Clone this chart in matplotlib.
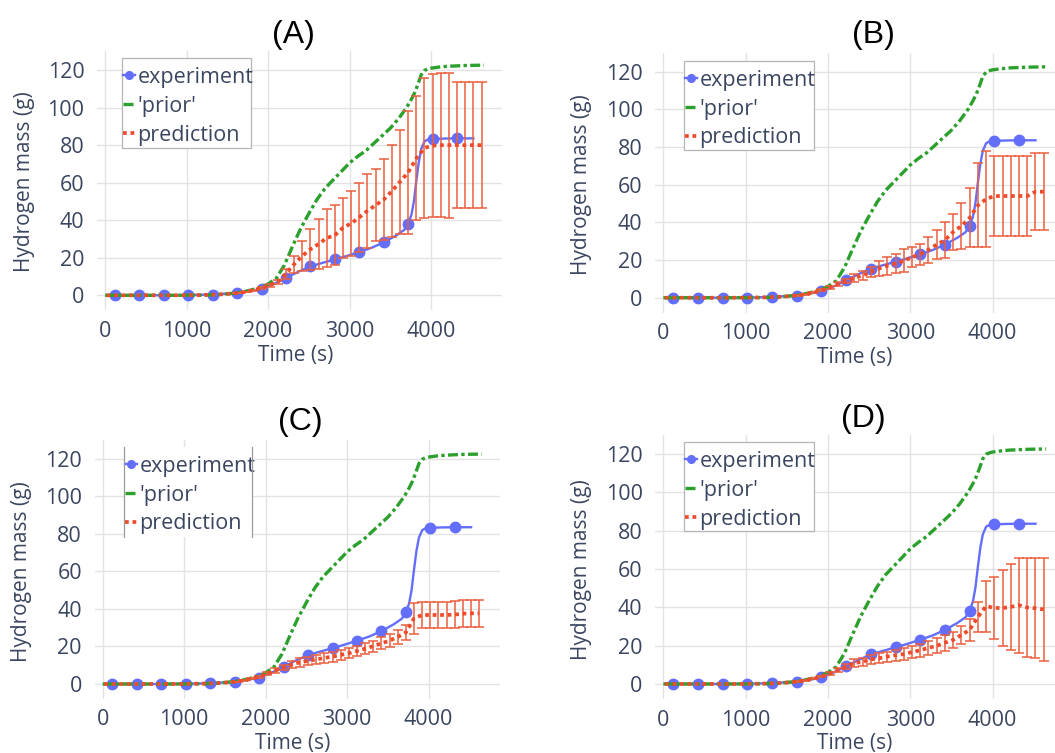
import matplotlib.pyplot as plt
from matplotlib.lines import Line2D
from matplotlib.patches import Rectangle

# experiment (markers every 300 s, line read at finer steps)
exp_t = [120, 420, 720, 1020, 1320, 1620, 1920, 2220, 2520, 2820, 3120, 3420, 3720, 4020, 4320]
exp_m = [0, 0, 0, 0, 0.3, 1.1, 3.4, 9.2, 15.4, 19.1, 23.1, 28.2, 38.2, 83.3, 83.6]
exp_line_t = [120, 420, 720, 1020, 1320, 1620, 1770, 1920, 2070, 2220, 2370, 2520, 2670, 2820,
              2970, 3120, 3270, 3420, 3570, 3670, 3720, 3760, 3790, 3820, 3850, 3880, 3920,
              3960, 4020, 4170, 4320, 4520]
exp_line_m = [0, 0, 0, 0.1, 0.4, 1.2, 2.1, 3.4, 6, 9.2, 12.5, 15.4, 17.3, 19.1,
              21, 23.1, 25.3, 28.2, 31.8, 34.8, 38.2, 43, 50, 61, 71, 78, 82,
              83, 83.3, 83.5, 83.6, 83.6]

# 'prior'
prior_t = [0, 300, 600, 900, 1200, 1400, 1600, 1700, 1800, 1900, 2000, 2100, 2200, 2300, 2400,
           2500, 2600, 2700, 2800, 2900, 3000, 3100, 3200, 3300, 3400, 3500, 3600, 3700, 3760,
           3800, 3840, 3880, 3920, 3960, 4000, 4100, 4200, 4300, 4400, 4500, 4650]
prior_m = [0, 0, 0, 0, 0.1, 0.4, 1.2, 1.9, 2.9, 4.1, 6, 9, 16, 26, 35.5,
           43.5, 51, 57, 61.5, 66, 70.5, 74, 77, 81, 85, 89, 94, 100, 104.5,
           108, 112.5, 117.5, 119.8, 120.6, 121, 121.6, 122, 122.2, 122.4, 122.5, 122.6]

# prediction: every 100 s from 20 to 4620
pred_t = list(range(20, 4621, 100))
early_m = [0, 0, 0, 0, 0, 0, 0, 0, 0, 0, 0.1, 0.1, 0.2, 0.3, 0.5, 0.8, 1.2, 1.8, 2.7, 3.9, 5.4, 7.2]
early_e = [0, 0, 0, 0, 0, 0, 0, 0, 0, 0, 0, 0, 0, 0, 0, 0, 0.1, 0.2, 0.3, 0.5, 0.8, 1.2]

a_m = [11.5, 16.5, 21, 24.5, 27.3, 30.5, 32, 36, 38.3, 41.5, 45, 48, 51, 55.5, 60.5, 65.5,
       73, 78.5, 79.7, 80, 80, 80, 80, 80, 80]
a_e = [2.7, 4.5, 7.8, 11, 13.2, 15.4, 16, 16, 17.3, 18.4, 19.7, 19.2, 21.8, 24.7, 27.7, 32.9,
       33.1, 37.1, 38, 38.3, 38.6, 33.5, 33.5, 33.5, 33.5]
b_m = [8.8, 10.5, 11.8, 13.7, 15.5, 17, 18.2, 19.6, 21.5, 23, 25.5, 28.2, 30.6, 34.9, 38.1, 42.4,
       49, 52.4, 54, 54, 54, 54, 54, 56.3, 56.3]
b_e = [1.2, 2, 2.4, 2.8, 3.8, 4.7, 5.1, 6.2, 5.3, 5.6, 6.9, 7.7, 9.7, 9.5, 12, 15.7,
       22.3, 25.7, 21.2, 21.2, 21.2, 21.2, 21.2, 20.4, 20.4]
c_m = [8.8, 10.4, 11.5, 12.3, 13.1, 13.9, 14.6, 15.5, 16.4, 17.6, 18.8, 20.2, 21.7, 23.1, 25.1, 27.5,
       35, 36.8, 36.8, 36.8, 36.8, 37, 37.5, 37.7, 37.7]
c_e = [1.2, 2, 2.2, 2.2, 2.4, 2.5, 2.7, 2.7, 2.7, 2.7, 2.8, 2.9, 3.2, 3.5, 3.7, 4,
       8.4, 7.1, 7.1, 7.1, 7.1, 7.1, 7.3, 7.3, 7.3]
d_m = [9, 11, 11.5, 12.8, 13.4, 14.3, 15, 15.6, 16.6, 17.6, 18.8, 19.9, 21.5, 23, 25.6, 28.2,
       34.9, 40.6, 39.7, 39.6, 40.2, 41.1, 39.9, 39.5, 38.9]
d_e = [1.3, 1.9, 2.2, 2.4, 2.6, 2.6, 2.8, 3, 3.2, 3.3, 3.8, 3.9, 4.1, 4.3, 4.7, 5.6,
       8, 13.3, 16, 19.8, 22.4, 24.8, 25.7, 26.1, 26.7]

x_ticks = [0, 1000, 2000, 3000, 4000]
y_ticks = [0, 20, 40, 60, 80, 100, 120]
legend_labels = ['experiment', "'prior'", 'prediction']

BLUE = '#636EFA'
GREEN = '#2CA02C'
RED = '#EE4B2B'
ERR = '#EC5F3E'
TXT = '#3a4660'
FONT = 'Open Sans'

W, H = 1055, 753
fig = plt.figure(figsize=(W / 100, H / 100), dpi=100)

# name, mean, err, axes box px (left, right, top, bottom), title xy, xlabel xy, ylabel xy,
# legend box px (left, top, width, height), legend sides only
panels = [
    ('(A)', a_m, a_e, (96.9, 501.9, 51.3, 310.3), (293, 35), (296, 355), (25, 182), (122, 58, 129, 90), False),
    ('(B)', b_m, b_e, (655.1, 1064.3, 52.9, 312.8), (873, 35), (855, 357), (582, 185), (684, 61, 130, 89), False),
    ('(C)', c_m, c_e, (94.5, 499.6, 440.2, 699.0), (300, 422), (293, 743), (22, 572), (124, 447, 128, 90), True),
    ('(D)', d_m, d_e, (655.1, 1064.3, 434.8, 699.3), (863, 419), (855, 743), (582, 570), (684, 442, 130, 89), False),
]

for name, late_m, late_e, box, tpos, xlpos, ylpos, lbox, sides_only in panels:
    l, r, t, b = box
    ax = fig.add_axes([l / W, 1 - b / H, (r - l) / W, (b - t) / H])
    pm = early_m + late_m
    pe = early_e + late_e

    ax.plot(exp_line_t, exp_line_m, color=BLUE, lw=1.7, zorder=3)
    ax.plot(exp_t, exp_m, 'o', color=BLUE, ms=7.5, zorder=3)
    ax.plot(prior_t, prior_m, color=GREEN, lw=2.4, dashes=(3, 1, 1, 1), zorder=4)
    bt = [x for x, e in zip(pred_t, pe) if e > 0]
    bm = [m for m, e in zip(pm, pe) if e > 0]
    be = [e for e in pe if e > 0]
    ax.errorbar(bt, bm, yerr=be, fmt='none', ecolor=ERR, elinewidth=1.1,
                capsize=3.4, capthick=1.1, zorder=5)
    ax.plot(pred_t, pm, color=RED, lw=2.7, dashes=(1, 1), zorder=6)

    ax.set_xlim(-100, 4870)
    ax.set_ylim(-8, 130)
    ax.set_xticks(x_ticks)
    ax.set_yticks(y_ticks)
    ax.grid(True, color='#e3e3e3', lw=1)
    ax.set_axisbelow(True)
    for s in ax.spines.values():
        s.set_visible(False)
    ax.tick_params(length=0, labelsize=15.5, labelcolor=TXT)
    ax.tick_params(axis='y', pad=9)
    ax.tick_params(axis='x', pad=7.5)
    for lab in ax.get_xticklabels() + ax.get_yticklabels():
        lab.set_fontfamily(FONT)

    fig.text(tpos[0] / W, 1 - tpos[1] / H, name, fontsize=23, family='Liberation Sans',
             ha='center', va='center', color='black')
    fig.text(xlpos[0] / W, 1 - xlpos[1] / H, 'Time (s)', fontsize=15, family=FONT,
             ha='center', va='center', color=TXT)
    fig.text(ylpos[0] / W, 1 - ylpos[1] / H, 'Hydrogen mass (g)', fontsize=15, family=FONT,
             ha='center', va='center', rotation=90, color=TXT)

    # legend frame drawn by hand
    lx, ly, lw_, lh = lbox
    if sides_only:
        for xx in (lx, lx + lw_):
            fig.add_artist(Line2D([xx / W, xx / W], [1 - ly / H, 1 - (ly + lh) / H],
                                  color='#9a9a9a', lw=0.9, zorder=9))
        fig.patches.append(Rectangle((lx / W, 1 - (ly + lh) / H), lw_ / W, lh / H,
                                     transform=fig.transFigure, facecolor='white',
                                     edgecolor='none', zorder=7))
    else:
        fig.patches.append(Rectangle((lx / W, 1 - (ly + lh) / H), lw_ / W, lh / H,
                                     transform=fig.transFigure, facecolor='white',
                                     edgecolor='#b5b5b5', lw=0.9, zorder=7))

    handles = [
        Line2D([], [], color=BLUE, lw=1.7, marker='o', ms=5.5),
        Line2D([], [], color=GREEN, lw=2.4, dashes=(3, 1, 1, 1)),
        Line2D([], [], color=RED, lw=2.7, dashes=(1, 1)),
    ]
    leg = fig.legend(handles, legend_labels,
                     loc='upper left', bbox_to_anchor=((lx + 1) / W, 1 - (ly + 9) / H),
                     prop={'family': FONT, 'size': 15.5}, labelcolor=TXT,
                     frameon=False, borderpad=0, borderaxespad=0,
                     handlelength=0.55, handletextpad=0.12, labelspacing=0.36)
    leg.set_zorder(8)

fig.savefig('out.png', dpi=100)
